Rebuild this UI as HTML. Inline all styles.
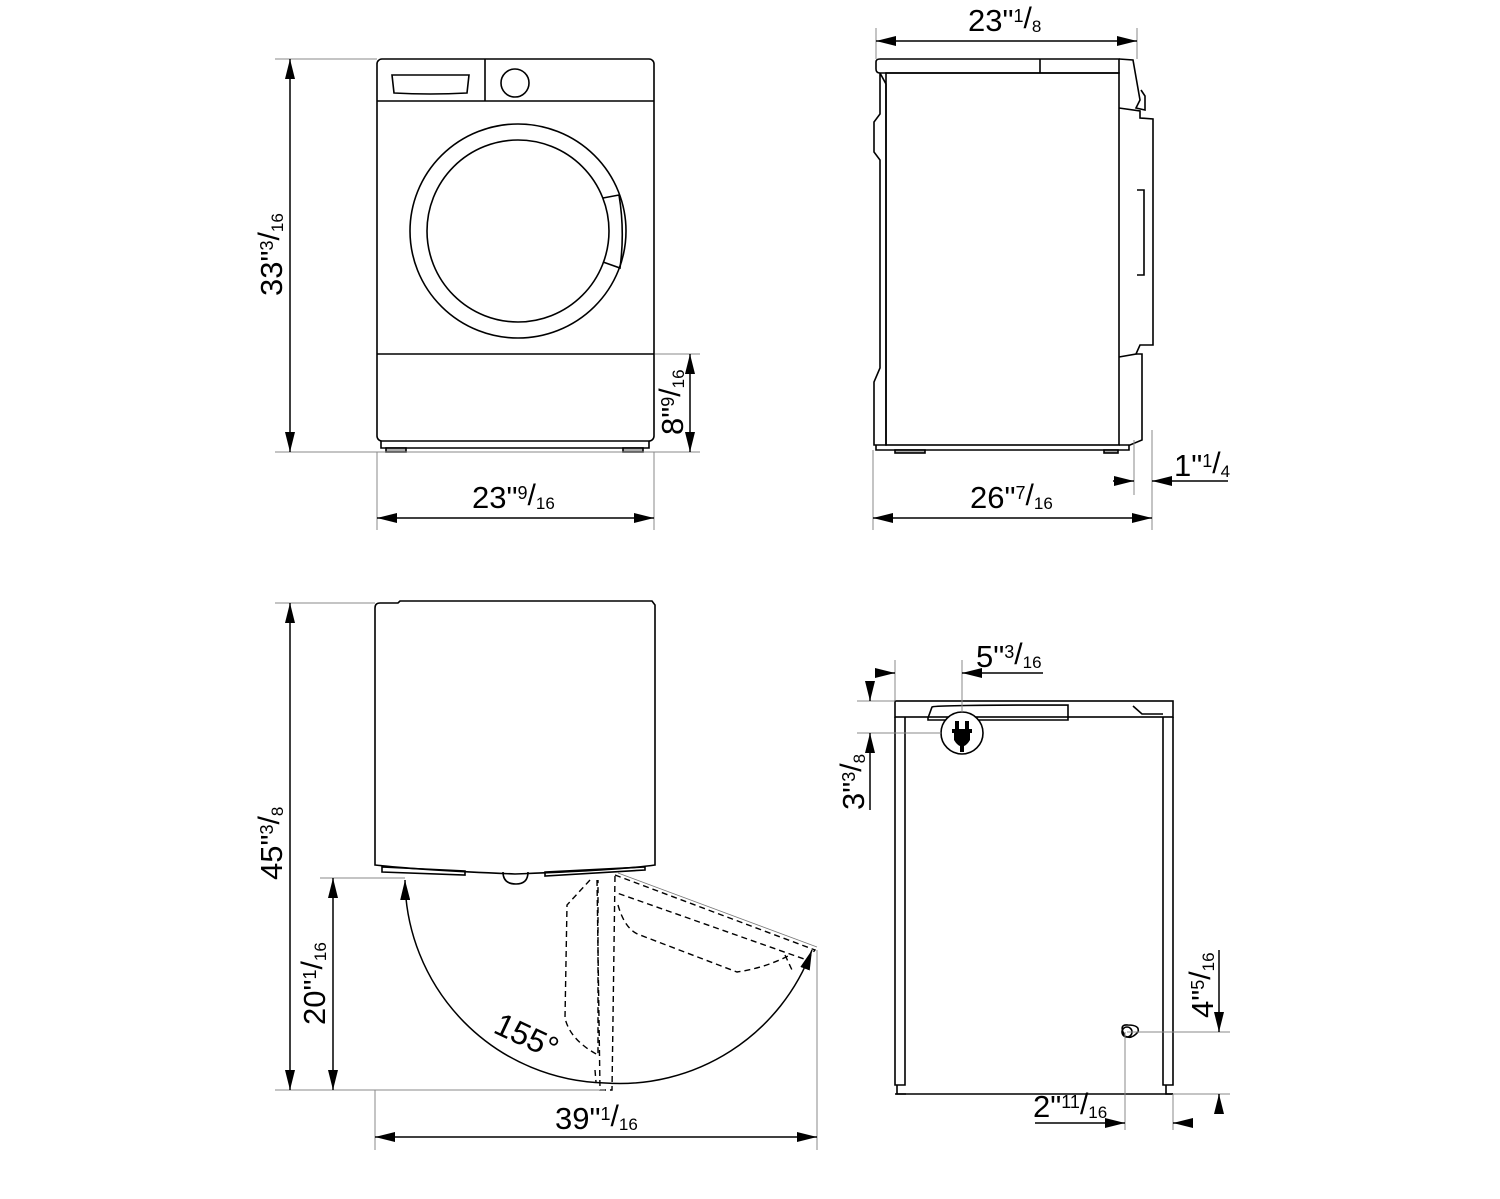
<!DOCTYPE html>
<html><head><meta charset="utf-8"><style>
html,body{margin:0;padding:0;background:#fff}
svg{display:block}
text{font-family:"Liberation Sans",Arial,sans-serif;fill:#000}
</style></head><body>
<svg width="1500" height="1199" viewBox="0 0 1500 1199" xmlns="http://www.w3.org/2000/svg">
<defs>
<marker id="a" viewBox="0 0 20 10" refX="20" refY="5" markerWidth="20" markerHeight="10" markerUnits="userSpaceOnUse" orient="auto-start-reverse"><path d="M0,0 L20,5 L0,10 Z" fill="#000"/></marker>
</defs>
<g fill="none" stroke="#000" stroke-width="1.6">
<rect x="377" y="59" width="277" height="382" rx="5"/>
<line x1="377" y1="101" x2="654" y2="101"/>
<line x1="485" y1="59" x2="485" y2="101"/>
<path d="M392,75 L469,75 L467,93 Q430,95 394,93 Z"/>
<circle cx="515" cy="83" r="14"/>
<ellipse cx="518" cy="231" rx="108" ry="107"/>
<circle cx="518" cy="231" r="91"/>
<path d="M603,198 L619,195 Q625,231 620,268 L603,262"/>
<line x1="377" y1="354" x2="654" y2="354"/>
<path d="M381,441 L381,448 L649,448 L649,441"/>
<rect x="386" y="448" width="20" height="4" fill="#aaa"/>
<rect x="623" y="448" width="20" height="4" fill="#aaa"/>
<path d="M876,62 Q876,59 880,59 L1119,59 L1119,73 L880,73 Q876,73 876,69 Z"/>
<line x1="1040" y1="59" x2="1040" y2="73"/>
<rect x="886" y="73" width="233" height="372"/>
<path d="M880,73 L886,84 L886,445 L874,445 L874,382 L880,368 L880,160 L874,152 L874,122 L880,114 L880,73"/>
<path d="M1119,59 L1133,60 L1140,100 L1136,108 L1145,110 L1145,96 L1141,90 M1119,108 L1140,111 L1140,118 L1153,119 L1153,345 L1140,345 L1136,354 L1119,357"/>
<path d="M1137,190 L1144,190 L1144,275 L1137,275"/>
<path d="M1136,354 L1142,354 L1142,440 L1130,445 L1119,445"/>
<path d="M876,445 L876,450 L1129,450 L1129,445"/>
<rect x="895" y="450" width="30" height="3" fill="#aaa"/>
<rect x="1104" y="450" width="14" height="3" fill="#aaa"/>
<path d="M375,865 L375,608 Q375,603 380,603 L398,603 L400,601 L652,601 L655,605 L655,865 Q620,870 515,874 Q420,870 375,865 Z"/>
<path d="M382,867 L465,871 L465,875 L382,872 Z"/>
<path d="M545,872 L645,867 L645,870 L545,876 Z"/>
<path d="M503,872 Q503,884 516,884 Q528,884 528,872"/>
<g stroke-dasharray="6,4" stroke-width="1.4">
<path d="M590,880 L567,905 L565,1018 Q570,1040 598,1055 L598,880"/>
<path d="M597,880 L600,1090 L612,1090 L615,875"/>
<path d="M615,875 L815,950 L807,960 L617,893"/>
<path d="M618,905 Q625,930 640,935 L737,972 Q765,968 790,955"/>
<path d="M595,1070 L596,1082 M785,955 L792,970"/>
</g>
<line x1="618" y1="873" x2="817" y2="947" stroke-width="0.8" stroke="#777"/>
<path d="M405,880 A205,205 0 0 0 605,1083 A205,205 0 0 0 812,950" marker-start="url(#a)" marker-end="url(#a)" stroke-width="1.5"/>
<rect x="895" y="701" width="278" height="16"/>
<path d="M895,717 L895,1085 L905,1085 L905,717 M1163,717 L1163,1085 L1173,1085 L1173,717"/>
<line x1="895" y1="1094" x2="1173" y2="1094"/>
<path d="M897,1085 L897,1094 L906,1094 M1166,1085 L1166,1094 L1173,1094"/>
<path d="M932,707 Q935,705 1068,705 L1068,720 L928,720 L928,718 Z"/>
<path d="M1133,706 L1142,714 L1163,714"/>
<circle cx="962" cy="733" r="21" fill="#fff"/>
<path d="M1125,1036 Q1118,1024 1128,1025 Q1140,1025 1138,1032 Q1131,1040 1125,1036 Z"/>
<circle cx="1127" cy="1032" r="5"/>
</g>
<g fill="#000"><rect x="955" y="721" width="4" height="8"/><rect x="965" y="721" width="4" height="8"/><rect x="952" y="729" width="20" height="4"/><path d="M954,733 L970,733 L970,740 Q967,745 964,746 L964,752 L960,752 L960,746 Q957,745 954,740Z"/></g>
<g fill="none" stroke="#888" stroke-width="1">
<line x1="275" y1="59" x2="377" y2="59"/><line x1="275" y1="452" x2="700" y2="452"/>
<line x1="655" y1="354" x2="700" y2="354"/>
<line x1="377" y1="452" x2="377" y2="530"/><line x1="654" y1="452" x2="654" y2="530"/>
<line x1="876" y1="28" x2="876" y2="59"/><line x1="1137" y1="28" x2="1137" y2="59"/>
<line x1="873" y1="450" x2="873" y2="530"/><line x1="1152" y1="430" x2="1152" y2="530"/>
<line x1="1134" y1="440" x2="1134" y2="495"/>
<line x1="275" y1="603" x2="375" y2="603"/><line x1="275" y1="1090" x2="605" y2="1090"/>
<line x1="320" y1="878" x2="405" y2="878"/>
<line x1="375" y1="1090" x2="375" y2="1150"/><line x1="817" y1="950" x2="817" y2="1150"/>
<line x1="895" y1="660" x2="895" y2="701"/><line x1="962" y1="660" x2="962" y2="712"/>
<line x1="857" y1="701" x2="895" y2="701"/><line x1="857" y1="733" x2="941" y2="733"/>
<line x1="1127" y1="1032" x2="1230" y2="1032"/><line x1="1173" y1="1094" x2="1230" y2="1094"/>
<line x1="1125" y1="1032" x2="1125" y2="1130"/><line x1="1173" y1="1094" x2="1173" y2="1130"/>
</g>
<g fill="none" stroke="#000" stroke-width="1.5">
<line x1="290" y1="59" x2="290" y2="452" marker-start="url(#a)" marker-end="url(#a)"/>
<line x1="690" y1="354" x2="690" y2="452" marker-start="url(#a)" marker-end="url(#a)"/>
<line x1="377" y1="518" x2="654" y2="518" marker-start="url(#a)" marker-end="url(#a)"/>
<line x1="876" y1="41" x2="1137" y2="41" marker-start="url(#a)" marker-end="url(#a)"/>
<line x1="873" y1="518" x2="1152" y2="518" marker-start="url(#a)" marker-end="url(#a)"/>
<line x1="1113" y1="481" x2="1134" y2="481" marker-end="url(#a)"/>
<line x1="1228" y1="481" x2="1152" y2="481" marker-end="url(#a)"/>
<line x1="290" y1="603" x2="290" y2="1090" marker-start="url(#a)" marker-end="url(#a)"/>
<line x1="333" y1="878" x2="333" y2="1090" marker-start="url(#a)" marker-end="url(#a)"/>
<line x1="375" y1="1137" x2="817" y2="1137" marker-start="url(#a)" marker-end="url(#a)"/>
<line x1="877" y1="673" x2="895" y2="673" marker-end="url(#a)"/>
<line x1="1043" y1="673" x2="962" y2="673" marker-end="url(#a)"/>
<line x1="870" y1="681" x2="870" y2="701" marker-end="url(#a)"/>
<line x1="870" y1="810" x2="870" y2="733" marker-end="url(#a)"/>
<line x1="1219" y1="950" x2="1219" y2="1032" marker-end="url(#a)"/>
<line x1="1219" y1="1112" x2="1219" y2="1094" marker-end="url(#a)"/>
<line x1="1035" y1="1123" x2="1125" y2="1123" marker-end="url(#a)"/>
<line x1="1193" y1="1123" x2="1173" y2="1123" marker-end="url(#a)"/>
</g>
<g font-size="31">
<text transform="translate(282,296) rotate(-90)">33"<tspan font-size="18" dy="-9">3</tspan><tspan font-size="30" dy="6">/</tspan><tspan font-size="17" dy="4">16</tspan></text>
<text transform="translate(683,435) rotate(-90)">8"<tspan font-size="18" dy="-9">9</tspan><tspan font-size="30" dy="6">/</tspan><tspan font-size="17" dy="4">16</tspan></text>
<text x="472" y="508">23"<tspan font-size="18" dy="-9">9</tspan><tspan font-size="30" dy="6">/</tspan><tspan font-size="17" dy="4">16</tspan></text>
<text x="968" y="31">23"<tspan font-size="18" dy="-9">1</tspan><tspan font-size="30" dy="6">/</tspan><tspan font-size="17" dy="4">8</tspan></text>
<text x="970" y="508">26"<tspan font-size="18" dy="-9">7</tspan><tspan font-size="30" dy="6">/</tspan><tspan font-size="17" dy="4">16</tspan></text>
<text x="1174" y="476">1"<tspan font-size="18" dy="-9">1</tspan><tspan font-size="30" dy="6">/</tspan><tspan font-size="17" dy="4">4</tspan></text>
<text transform="translate(282,880) rotate(-90)">45"<tspan font-size="18" dy="-9">3</tspan><tspan font-size="30" dy="6">/</tspan><tspan font-size="17" dy="4">8</tspan></text>
<text transform="translate(325,1025) rotate(-90)">20"<tspan font-size="18" dy="-9">1</tspan><tspan font-size="30" dy="6">/</tspan><tspan font-size="17" dy="4">16</tspan></text>
<text x="555" y="1129">39"<tspan font-size="18" dy="-9">1</tspan><tspan font-size="30" dy="6">/</tspan><tspan font-size="17" dy="4">16</tspan></text>
<text transform="translate(492,1032) rotate(25)" font-size="32">155°</text>
<text x="976" y="667">5"<tspan font-size="18" dy="-9">3</tspan><tspan font-size="30" dy="6">/</tspan><tspan font-size="17" dy="4">16</tspan></text>
<text transform="translate(864,810) rotate(-90)">3"<tspan font-size="18" dy="-9">3</tspan><tspan font-size="30" dy="6">/</tspan><tspan font-size="17" dy="4">8</tspan></text>
<text transform="translate(1213,1018) rotate(-90)">4"<tspan font-size="18" dy="-9">5</tspan><tspan font-size="30" dy="6">/</tspan><tspan font-size="17" dy="4">16</tspan></text>
<text x="1033" y="1117">2"<tspan font-size="18" dy="-9">11</tspan><tspan font-size="30" dy="6">/</tspan><tspan font-size="17" dy="4">16</tspan></text>
</g>
</svg>
</body></html>
